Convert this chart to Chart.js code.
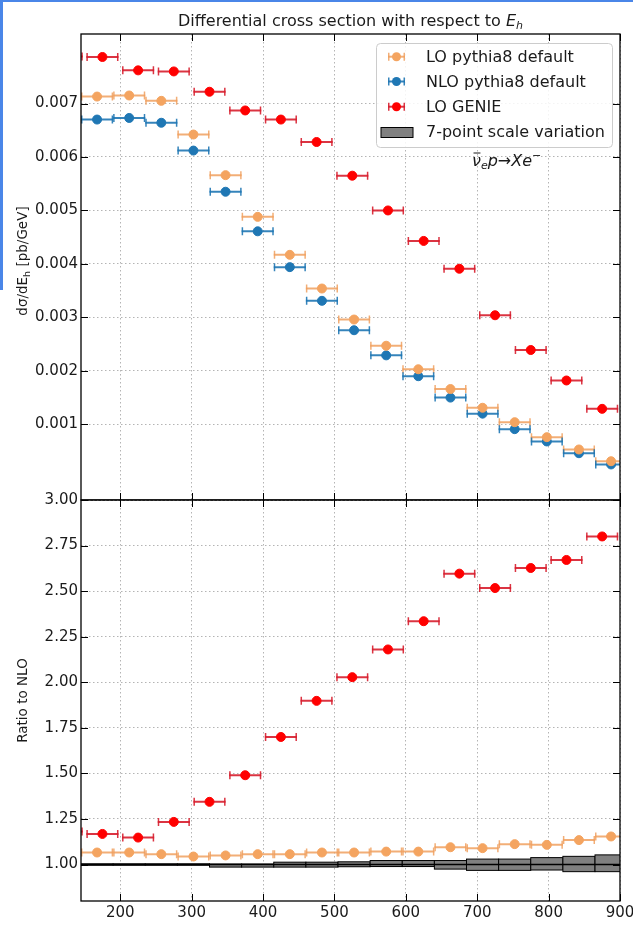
<!DOCTYPE html>
<html>
<head>
<meta charset="utf-8">
<script src="https://cdn.jsdelivr.net/npm/chart.js@4.4.0/dist/chart.umd.min.js"></script>
<style>
  body { margin:0; background:#fff; width:633px; height:942px; overflow:hidden; position:relative; }
  canvas { position:absolute; left:0; }
  #top { top:0; }
  #bot { top:490px; }
  .edge { position:absolute; background:#4a86e8; }
</style>
</head>
<body>
<div class="edge" style="left:0;top:0;width:633px;height:2px"></div>
<div class="edge" style="left:0;top:0;width:3px;height:290px"></div>
<canvas id="top" width="633" height="510"></canvas>
<canvas id="bot" width="633" height="452"></canvas>
<script>
// bin centres (GeV) and half bin width
const pythiaCenters = [167.5, 212.5, 257.5, 302.5, 347.5, 392.5, 437.5, 482.5, 527.5,
                       572.5, 617.5, 662.5, 707.5, 752.5, 797.5, 842.5, 887.5];
const genieCenters = [125, 175, 225, 275, 325, 375, 425, 475, 525, 575, 625, 675, 725, 775, 825, 875];
const halfWidth = 22.5;

// dsigma/dE_h [pb/GeV]
const loPythia = [0.00713, 0.00715, 0.00705, 0.00642, 0.00566, 0.00488, 0.00417, 0.00354, 0.00296,
                  0.00247, 0.00203, 0.00166, 0.00131, 0.00104, 0.00076, 0.00053, 0.00031];
const nloPythia = [0.00670, 0.00673, 0.00664, 0.00612, 0.00535, 0.00461, 0.00394, 0.00331, 0.00276,
                   0.00229, 0.00190, 0.00150, 0.00120, 0.00091, 0.00068, 0.00046, 0.00025];
const loGenie = [0.00788, 0.00787, 0.00762, 0.00760, 0.00722, 0.00687, 0.00670, 0.00628,
                 0.00565, 0.00500, 0.00443, 0.00391, 0.00304, 0.00239, 0.00182, 0.00129];

// ratios to NLO
const ratioLO = [1.066, 1.066, 1.057, 1.044, 1.050, 1.057, 1.057, 1.066, 1.066,
                 1.071, 1.071, 1.095, 1.090, 1.112, 1.108, 1.134, 1.154];
const ratioGenie = [1.181, 1.168, 1.148, 1.234, 1.344, 1.490, 1.700, 1.898,
                    2.028, 2.180, 2.335, 2.596, 2.517, 2.627, 2.671, 2.800];

// 7-point scale variation band (ratio), per bin
const bandEdges = [145, 190, 235, 280, 325, 370, 415, 460, 505, 550, 595, 640, 685, 730, 775, 820, 865, 910];
const bandUp = [1.004, 1.004, 1.004, 1.004, 1.003, 1.003, 1.013, 1.013, 1.015,
                1.022, 1.022, 1.022, 1.030, 1.030, 1.038, 1.045, 1.053];
const bandDown = [0.996, 0.996, 0.996, 0.996, 0.986, 0.986, 0.986, 0.986, 0.988,
                  0.989, 0.989, 0.975, 0.968, 0.968, 0.970, 0.961, 0.961];

// ticks
const xTicks = [200, 300, 400, 500, 600, 700, 800, 900];
const topTicks = [0.001, 0.002, 0.003, 0.004, 0.005, 0.006, 0.007];
const ratioTicks = [1.00, 1.25, 1.50, 1.75, 2.00, 2.25, 2.50, 2.75, 3.00];

const ORANGE = '#f4a460', BLUE = '#1f77b4', RED = '#ff0000';
const FONT = 'DejaVu Sans';
Chart.defaults.font.family = FONT;
Chart.defaults.color = '#1a1a1a';

// horizontal error bars with caps, drawn under the markers
const errorBars = {
  id: 'errorBars',
  beforeDatasetsDraw(chart) {
    const { ctx, chartArea: a, scales: { x, y } } = chart;
    ctx.save();
    ctx.beginPath(); ctx.rect(a.left, a.top, a.width, a.height); ctx.clip();
    chart.data.datasets.forEach(ds => {
      if (!ds.xerr) return;
      ctx.strokeStyle = ds.ecolor;
      ds.data.forEach(p => {
        const x0 = x.getPixelForValue(p.x - ds.xerr);
        const x1 = x.getPixelForValue(p.x + ds.xerr);
        const py = y.getPixelForValue(p.y);
        ctx.lineWidth = 2;
        ctx.beginPath(); ctx.moveTo(x0, py); ctx.lineTo(x1, py); ctx.stroke();
        ctx.lineWidth = 1.5;
        ctx.beginPath();
        ctx.moveTo(x0 + 0.75, py - 4); ctx.lineTo(x0 + 0.75, py + 4);
        ctx.moveTo(x1 - 0.75, py - 4); ctx.lineTo(x1 - 0.75, py + 4);
        ctx.stroke();
      });
    });
    ctx.restore();
  }
};

// black frame and inward ticks
const frame = {
  id: 'frame',
  afterDraw(chart) {
    const { ctx, chartArea: a, scales: { x, y } } = chart;
    ctx.save();
    ctx.strokeStyle = '#000';
    ctx.lineWidth = 1;
    ctx.beginPath();
    x.ticks.forEach(t => {
      const px = Math.round(x.getPixelForValue(t.value)) + 0.5;
      ctx.moveTo(px, a.top); ctx.lineTo(px, a.top + 7);
      ctx.moveTo(px, a.bottom); ctx.lineTo(px, a.bottom - 7);
    });
    y.ticks.forEach(t => {
      const py = Math.round(y.getPixelForValue(t.value)) + 0.5;
      ctx.moveTo(a.left, py); ctx.lineTo(a.left + 7, py);
      ctx.moveTo(a.right, py); ctx.lineTo(a.right - 7, py);
    });
    ctx.stroke();
    ctx.lineWidth = 1.3;
    ctx.strokeRect(a.left, a.top, a.width, a.height);
    ctx.restore();
  }
};

// draws a list of [text, font, dy] pieces left to right
function drawPieces(ctx, pieces, x, y) {
  pieces.forEach(([t, f, dy]) => {
    ctx.font = f;
    ctx.fillText(t, x, y + (dy || 0));
    x += ctx.measureText(t).width;
  });
  return x;
}
function piecesWidth(ctx, pieces) {
  let w = 0;
  pieces.forEach(([t, f]) => { ctx.font = f; w += ctx.measureText(t).width; });
  return w;
}

const topDecor = {
  id: 'topDecor',
  afterDraw(chart) {
    const { ctx, chartArea: a } = chart;
    ctx.save();
    ctx.fillStyle = '#1a1a1a';
    ctx.textBaseline = 'alphabetic';
    ctx.textAlign = 'left';
    // title
    const title = [['Differential cross section with respect to ', '16px ' + FONT],
                   ['E', 'italic 16px ' + FONT], ['h', 'italic 11px ' + FONT, 3]];
    const tw = piecesWidth(ctx, title);
    drawPieces(ctx, title, (a.left + a.right) / 2 - tw / 2, 26);

    // y label
    ctx.save();
    ctx.translate(27, (a.top + a.bottom) / 2 - 6);
    ctx.rotate(-Math.PI / 2);
    const yl = [['dσ/dE', '13.5px ' + FONT], ['h', '9.5px ' + FONT, 3], [' [pb/GeV]', '13.5px ' + FONT]];
    drawPieces(ctx, yl, -piecesWidth(ctx, yl) / 2, 0);
    ctx.restore();

    // legend
    const lx = 376, ly = 43, lw = 236, lh = 104;
    ctx.fillStyle = 'rgba(255,255,255,0.85)';
    ctx.strokeStyle = '#cccccc';
    ctx.lineWidth = 1;
    ctx.beginPath(); ctx.roundRect(lx + 0.5, ly + 0.5, lw, lh, 4); ctx.fill(); ctx.stroke();
    const rows = [56.7, 81.5, 106.7, 132.3];
    chart.data.datasets.forEach((ds, i) => {
      const ry = rows[i];
      ctx.strokeStyle = ds.ecolor;
      ctx.lineWidth = 2;
      ctx.beginPath(); ctx.moveTo(388, ry); ctx.lineTo(405, ry); ctx.stroke();
      ctx.lineWidth = 1.5;
      ctx.beginPath();
      ctx.moveTo(388.75, ry - 4); ctx.lineTo(388.75, ry + 4);
      ctx.moveTo(404.25, ry - 4); ctx.lineTo(404.25, ry + 4);
      ctx.stroke();
      ctx.fillStyle = ds.backgroundColor;
      ctx.beginPath(); ctx.arc(396.5, ry, 4.5, 0, Math.PI * 2); ctx.fill();
    });
    ctx.fillStyle = '#808080';
    ctx.strokeStyle = '#000';
    ctx.lineWidth = 1;
    ctx.fillRect(381, 127.5, 32, 10); ctx.strokeRect(381, 127.5, 32, 10);
    ctx.fillStyle = '#1a1a1a';
    ctx.font = '16px ' + FONT;
    ctx.textBaseline = 'middle';
    ['LO pythia8 default', 'NLO pythia8 default', 'LO GENIE', '7-point scale variation']
      .forEach((t, i) => ctx.fillText(t, 426, rows[i] + 1));

    // process label
    ctx.textBaseline = 'alphabetic';
    const mx = 472, my = 166;
    const endNu = drawPieces(ctx, [['ν', 'italic 16px ' + FONT]], mx, my);
    ctx.strokeStyle = '#1a1a1a'; ctx.lineWidth = 1;
    ctx.beginPath(); ctx.moveTo(mx + 1.5, my - 13); ctx.lineTo(endNu - 0.5, my - 13); ctx.stroke();
    drawPieces(ctx, [['e', 'italic 11px ' + FONT, 3], ['p', 'italic 16px ' + FONT],
                     ['→', '16px ' + FONT], ['Xe', 'italic 16px ' + FONT],
                     ['−', '11px ' + FONT, -7]], endNu, my);
    ctx.restore();
  }
};

const bottomDecor = {
  id: 'bottomDecor',
  beforeDatasetsDraw(chart) {
    const { ctx, chartArea: a, scales: { x, y } } = chart;
    ctx.save();
    ctx.beginPath(); ctx.rect(a.left, a.top, a.width, a.height); ctx.clip();
    ctx.fillStyle = '#808080';
    ctx.strokeStyle = '#000';
    ctx.lineWidth = 1;
    for (let i = 0; i < bandUp.length; i++) {
      const x0 = x.getPixelForValue(bandEdges[i]), x1 = x.getPixelForValue(bandEdges[i + 1]);
      const y0 = y.getPixelForValue(bandUp[i]), y1 = y.getPixelForValue(bandDown[i]);
      ctx.fillRect(x0, y0, x1 - x0, y1 - y0);
      ctx.strokeRect(x0, y0, x1 - x0, y1 - y0);
    }
    const y1 = y.getPixelForValue(1);
    ctx.lineWidth = 1.6;
    ctx.beginPath(); ctx.moveTo(a.left, y1); ctx.lineTo(a.right, y1); ctx.stroke();
    ctx.restore();
  },
  afterDraw(chart) {
    const { ctx, chartArea: a } = chart;
    ctx.save();
    ctx.fillStyle = '#1a1a1a';
    ctx.textBaseline = 'alphabetic';
    const xl = [['E', '14.5px ' + FONT], ['h', '10px ' + FONT, 3], [' [GeV]', '14.5px ' + FONT]];
    drawPieces(ctx, xl, (a.left + a.right) / 2 - piecesWidth(ctx, xl) / 2, 937);
    ctx.translate(27, (a.top + a.bottom) / 2);
    ctx.rotate(-Math.PI / 2);
    ctx.font = '13.5px ' + FONT;
    ctx.textAlign = 'center';
    ctx.fillText('Ratio to NLO', 0, 0);
    ctx.restore();
  }
};

const gridStyle = { color: '#b4b4b4', lineWidth: 1, drawTicks: false };
const borderStyle = { display: false, dash: [1.5, 2.5] };
const setTicks = list => s => { s.ticks = list.map(v => ({ value: v })); };
// no extra room for overhanging tick labels: plot area is fixed by the layout padding
const noPad = s => { s.paddingLeft = s.paddingRight = s.paddingTop = s.paddingBottom = 0; };

function xAxis(showLabels, height) {
  return {
    type: 'linear', min: 145, max: 900,
    grid: gridStyle, border: borderStyle,
    ticks: { display: showLabels, padding: 3, font: { size: 15 }, maxRotation: 0 },
    afterBuildTicks: setTicks(xTicks),
    afterFit: s => { s.height = height; noPad(s); }
  };
}
function yAxis(min, max, list, fmt) {
  return {
    min, max,
    grid: gridStyle, border: borderStyle,
    ticks: { padding: 3, font: { size: 15 }, callback: v => v.toFixed(fmt) },
    afterBuildTicks: setTicks(list),
    afterFit: s => { s.width = 81; noPad(s); }
  };
}
const pts = (xs, ys) => xs.map((x, i) => ({ x, y: ys[i] }));
const common = {
  responsive: false, animation: false,
  plugins: { legend: { display: false }, tooltip: { enabled: false } }
};

new Chart(document.getElementById('top'), {
  type: 'scatter',
  data: {
    datasets: [
      { label: 'LO pythia8 default', data: pts(pythiaCenters, loPythia), xerr: halfWidth,
        ecolor: 'rgba(240,160,95,0.85)', backgroundColor: ORANGE, borderColor: ORANGE, pointRadius: 4.5 },
      { label: 'NLO pythia8 default', data: pts(pythiaCenters, nloPythia), xerr: halfWidth,
        ecolor: 'rgba(31,119,180,0.9)', backgroundColor: BLUE, borderColor: BLUE, pointRadius: 4.5 },
      { label: 'LO GENIE', data: pts(genieCenters, loGenie), xerr: halfWidth,
        ecolor: 'rgba(215,30,45,0.9)', backgroundColor: RED, borderColor: RED, pointRadius: 4.5 }
    ]
  },
  options: {
    ...common,
    layout: { padding: { top: 34, bottom: 10, left: 0, right: 13 }, autoPadding: false },
    scales: { x: xAxis(false, 0), y: yAxis(-0.000415, 0.0083, topTicks, 3) }
  },
  plugins: [errorBars, frame, topDecor]
});

new Chart(document.getElementById('bot'), {
  type: 'scatter',
  data: {
    datasets: [
      { label: 'LO pythia8 default', data: pts(pythiaCenters, ratioLO), xerr: halfWidth,
        ecolor: 'rgba(240,160,95,0.85)', backgroundColor: ORANGE, borderColor: ORANGE, pointRadius: 4.5 },
      { label: 'LO GENIE', data: pts(genieCenters, ratioGenie), xerr: halfWidth,
        ecolor: 'rgba(215,30,45,0.9)', backgroundColor: RED, borderColor: RED, pointRadius: 4.5 }
    ]
  },
  options: {
    ...common,
    layout: { padding: { top: 10, bottom: 0, left: 0, right: 13 }, autoPadding: false },
    scales: { x: xAxis(true, 41), y: yAxis(0.8, 3.0, ratioTicks, 2) }
  },
  plugins: [bottomDecor, errorBars, frame]
});
</script>
</body>
</html>
